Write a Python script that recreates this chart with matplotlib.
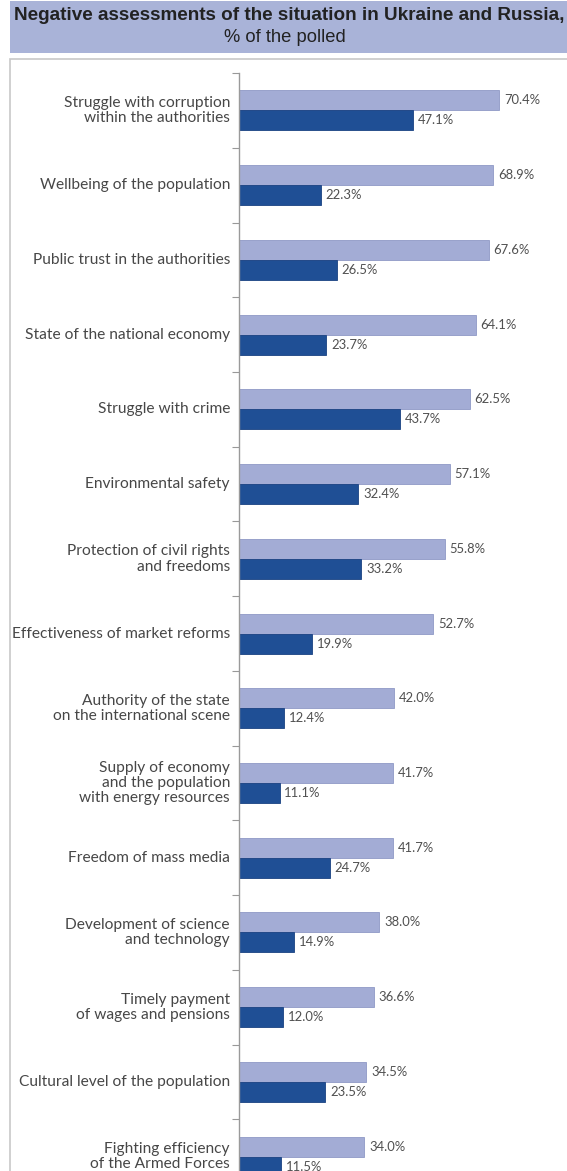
import numpy as np
import matplotlib.pyplot as plt
from matplotlib.patches import Rectangle

categories = [
    "Struggle with corruption\nwithin the authorities",
    "Wellbeing of the population",
    "Public trust in the authorities",
    "State of the national economy",
    "Struggle with crime",
    "Environmental safety",
    "Protection of civil rights\nand freedoms",
    "Effectiveness of market reforms",
    "Authority of the state\non the international scene",
    "Supply of economy\nand the population\nwith energy resources",
    "Freedom of mass media",
    "Development of science\nand technology",
    "Timely payment\nof wages and pensions",
    "Cultural level of the population",
    "Fighting efficiency\nof the Armed Forces",
]
ukraine = [70.4, 68.9, 67.6, 64.1, 62.5, 57.1, 55.8, 52.7, 42.0, 41.7, 41.7, 38.0, 36.6, 34.5, 34.0]
russia = [47.1, 22.3, 26.5, 23.7, 43.7, 32.4, 33.2, 19.9, 12.4, 11.1, 24.7, 14.9, 12.0, 23.5, 11.5]

W, H = 567, 1171
fig = plt.figure(figsize=(W / 100, H / 100), dpi=100)
fig.patch.set_facecolor("white")

# header band and the framed panel below it
fig.patches.append(Rectangle((10 / W, 1 - 53 / H), 1, 52 / H, transform=fig.transFigure,
                             facecolor="#a9b3d8", edgecolor="none", zorder=-2))
fig.patches.append(Rectangle((10 / W, -0.05), 1, (H - 59) / H + 0.05, transform=fig.transFigure,
                             facecolor="white", edgecolor="#c8c8c8", linewidth=1.2, zorder=-2))
fig.text(289 / W, 1 - 15 / H, "Negative assessments of the situation in Ukraine and Russia,",
         ha="center", va="center", fontsize=13.6, fontweight="bold", color="#222222",
         family="Liberation Sans")
fig.text(285 / W, 1 - 37 / H, "% of the polled", ha="center", va="center", fontsize=13.2,
         color="#222222", family="Liberation Sans")

step = 74.73
top = 73.1
n = len(categories)
ax_left = 238.5 / W
ax_bottom = (H - (top + n * step)) / H
ax = fig.add_axes([ax_left, ax_bottom, 1 - ax_left, n * step / H])
ax.set_facecolor("none")
ax.set_zorder(1)

y = np.arange(n)
bh = 20 / step
ax.barh(y - bh / 2, ukraine, height=bh, color="#a3acd5", edgecolor="#8f99c6", linewidth=0.6)
ax.barh(y + bh / 2, russia, height=bh, color="#1f4f95", edgecolor="#1a4282", linewidth=0.6)

for i in range(n):
    ax.text(ukraine[i] + 1.3, y[i] - bh / 2, f"{ukraine[i]:.1f}%", va="center",
            ha="left", fontsize=9.4, color="#505050", family="Lato")
    ax.text(russia[i] + 1.3, y[i] + bh / 2, f"{russia[i]:.1f}%", va="center",
            ha="left", fontsize=9.4, color="#505050", family="Lato")
    ax.text(-2.3, y[i], categories[i], ha="right", va="center", fontsize=11.2,
            color="#474747", family="Lato", linespacing=1.12)

ax.set_xlim(0, (W - 238.5) / 3.70)
ax.set_ylim(n - 0.5, -0.5)
ax.set_xticks([])
ax.set_yticks(np.arange(n + 1) - 0.5)
ax.set_yticklabels([])
ax.tick_params(axis="y", length=5, width=0.8, color="#999999")
for s in ["top", "right", "bottom"]:
    ax.spines[s].set_visible(False)
ax.spines["left"].set_color("#9a9a9a")
ax.spines["left"].set_linewidth(1.0)

fig.savefig("out.png", dpi=100)
